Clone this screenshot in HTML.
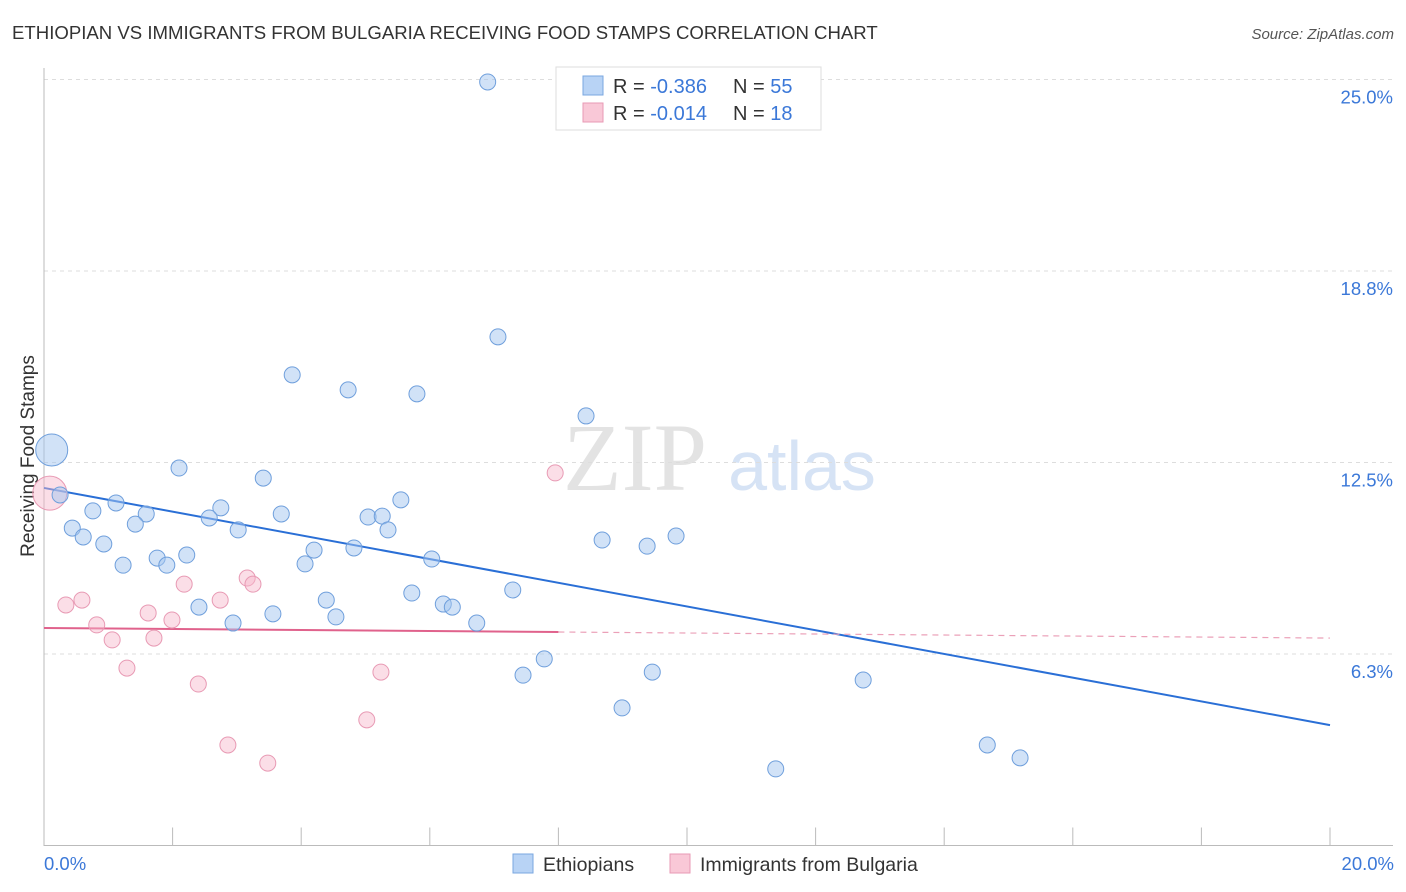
<!DOCTYPE html>
<html><head><meta charset="utf-8"><style>
body{margin:0;background:#fff;font-family:"Liberation Sans",sans-serif;}
svg{display:block}
</style></head><body>
<svg id="chart" width="1406" height="892">
<text x="12" y="39" font-size="18.6" fill="#333">ETHIOPIAN VS IMMIGRANTS FROM BULGARIA RECEIVING FOOD STAMPS CORRELATION CHART</text>
<text x="1394" y="39" font-size="15" fill="#555" font-style="italic" text-anchor="end">Source: ZipAtlas.com</text>
<text x="0" y="0" transform="translate(34,456) rotate(-90)" font-size="19" fill="#333" text-anchor="middle">Receiving Food Stamps</text>
<g>
<text x="635" y="490" font-size="96" fill="#e3e3e3" font-family="Liberation Serif,serif" text-anchor="middle">ZIP</text>
<text x="802" y="490" font-size="70" fill="#d6e3f5" text-anchor="middle">atlas</text>
</g>
<g id="grid"></g><g id="axes"></g><g id="lines"></g><g id="points"></g>
<g>
<rect x="556" y="67" width="265" height="63" fill="#fff" stroke="#ddd"/>
<rect x="583" y="76" width="20" height="19" fill="#b8d3f5" stroke="#7aa7e0"/>
<rect x="583" y="103" width="20" height="19" fill="#f9c8d7" stroke="#e89ab4"/>
<text x="613" y="93" font-size="20" fill="#333">R = <tspan fill="#3b78d8">-0.386</tspan><tspan x="733">N = </tspan><tspan fill="#3b78d8">55</tspan></text>
<text x="613" y="120" font-size="20" fill="#333">R = <tspan fill="#3b78d8">-0.014</tspan><tspan x="733">N = </tspan><tspan fill="#3b78d8"> 18</tspan></text>
</g>
<g>
<rect x="513" y="854" width="20" height="19" fill="#b8d3f5" stroke="#7aa7e0"/>
<text x="543" y="871" font-size="19.5" fill="#333">Ethiopians</text>
<rect x="670" y="854" width="20" height="19" fill="#f9c8d7" stroke="#e89ab4"/>
<text x="700" y="871" font-size="19.5" fill="#333">Immigrants from Bulgaria</text>
</g>
</svg>
<script>
const yTicks=[6.25,12.5,18.75,25];
const yTickLabels=["6.3%","12.5%","18.8%","25.0%"];
const xTickLabels=["0.0%","20.0%"];
const blueX=[6.90,7.06,3.86,4.73,5.80,8.43,0.12,2.10,3.41,0.25,1.12,0.76,1.59,2.75,2.57,0.44,1.42,3.02,3.69,5.04,5.26,5.55,5.35,0.61,0.93,1.76,2.22,1.91,1.23,4.20,4.82,4.06,6.03,8.68,9.38,9.83,2.41,2.94,3.56,4.39,4.54,5.72,6.21,6.35,6.73,7.29,7.78,7.45,9.46,12.74,8.99,14.67,15.18,11.38];
const blueY=[24.92,16.60,15.36,14.87,14.74,14.02,12.91,12.32,11.99,11.44,11.18,10.92,10.82,11.02,10.69,10.36,10.49,10.30,10.82,10.72,10.75,11.28,10.30,10.07,9.84,9.38,9.48,9.15,9.15,9.64,9.71,9.19,9.35,9.97,9.77,10.10,7.78,7.26,7.56,8.01,7.46,8.24,7.88,7.78,7.26,8.34,6.09,5.56,5.66,5.40,4.49,3.28,2.86,2.50];
const pinkX=[0.09,0.34,0.59,0.82,1.06,1.29,1.62,1.71,1.99,2.18,2.40,2.74,2.86,3.16,3.25,3.48,5.02,5.24,7.95];
const pinkY=[11.50,7.85,8.01,7.20,6.71,5.79,7.59,6.77,7.36,8.53,5.27,8.01,3.28,8.73,8.53,2.69,4.10,5.66,12.16];
const blueTrend=[11.67,3.93];
const pinkTrend=[7.10,6.77];
const pinkSolidEnd=8;
const NS="http://www.w3.org/2000/svg";
const X0=44,X1=1330,Y0=845.5,PXPER=191.5/6.25;
const sx=v=>X0+(v/20)*(X1-X0);
const sy=v=>Y0-v*PXPER;
function mk(tag,attrs,parent){const e=document.createElementNS(NS,tag);for(const k in attrs)e.setAttribute(k,attrs[k]);parent.appendChild(e);return e;}
const grid=document.getElementById('grid'),axes=document.getElementById('axes'),lines=document.getElementById('lines'),pts=document.getElementById('points');
yTicks.forEach((t,i)=>{
 const l=mk('line',{x1:X0,x2:1393,y1:sy(t),y2:sy(t),stroke:'#ddd','stroke-dasharray':'4,4'},grid);
 
 
 const tx=mk('text',{x:1393,y:sy(t)+24,'font-size':18.5,fill:'#3b78d8','text-anchor':'end'},grid);
 tx.textContent=yTickLabels[i];
 
 
});
const ax=mk('path',{d:`M${X0},68V${Y0}H1393`,stroke:'#bbb',fill:'none'},axes);


for(let i=0;i<=10;i++){
 const tk=mk('line',{x1:sx(i*2),x2:sx(i*2),y1:Y0,y2:Y0-18,stroke:'#bbb'},axes);
 
 
}
[[0,'start',44],[20,'end',1394]].forEach((d,i)=>{
 const t=mk('text',{x:d[2],y:870,'font-size':18.5,fill:'#3b78d8','text-anchor':d[1]},axes);
 t.textContent=xTickLabels[i];
 
 
});
function dot(x,y,r,fill,stroke,name){
 const c=mk('circle',{cx:sx(x),cy:sy(y),r:r,fill:fill,stroke:stroke,'stroke-width':1},pts);
 
 
}
pinkX.forEach((x,i)=>dot(x,pinkY[i],i===0?17:8,'rgba(246,182,202,0.45)','#e89ab4','bulgaria-point'));
blueX.forEach((x,i)=>dot(x,blueY[i],i===6?16:8,'rgba(164,198,240,0.5)','#6f9fdc','ethiopian-point'));
const bl=mk('line',{x1:sx(0),y1:sy(blueTrend[0]),x2:sx(20),y2:sy(blueTrend[1]),stroke:'#2a6fd6','stroke-width':2},lines);


const pm=pinkTrend[0]+(pinkTrend[1]-pinkTrend[0])*pinkSolidEnd/20;
const pl=mk('line',{x1:sx(0),y1:sy(pinkTrend[0]),x2:sx(pinkSolidEnd),y2:sy(pm),stroke:'#e0628c','stroke-width':2},lines);


const pd=mk('line',{x1:sx(pinkSolidEnd),y1:sy(pm),x2:sx(20),y2:sy(pinkTrend[1]),stroke:'#eba0b8','stroke-width':1.2,'stroke-dasharray':'6,5'},lines);


</script>
</body></html>
